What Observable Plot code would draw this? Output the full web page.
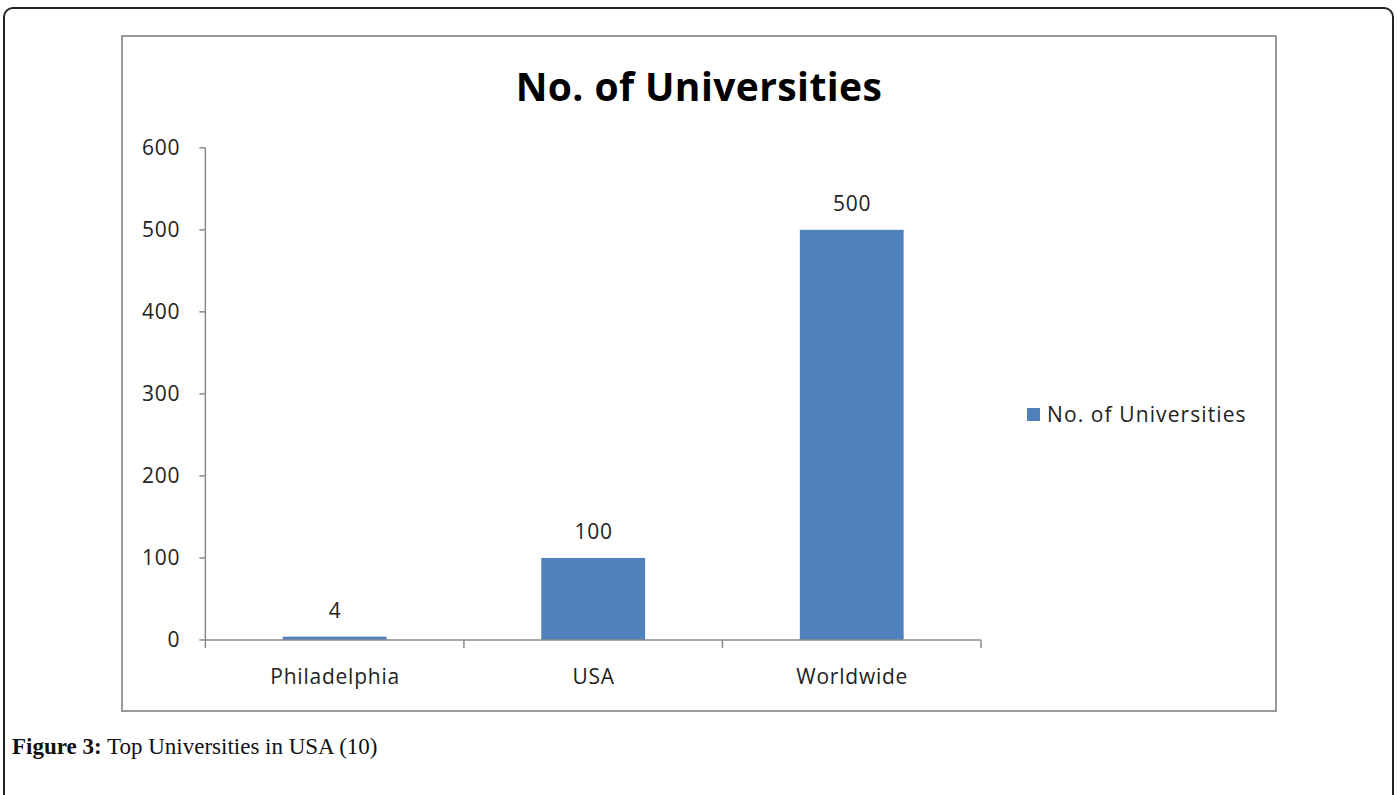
<!DOCTYPE html>
<html>
<head>
<meta charset="utf-8">
<script src="https://cdn.jsdelivr.net/npm/d3@7"></script>
<script src="https://cdn.jsdelivr.net/npm/@observablehq/plot@0.6"></script>
<style>
  html, body { margin: 0; padding: 0; background: #fff; width: 1397px; height: 795px; overflow: hidden; }
  #outer { position: absolute; left: 3px; top: 7px; width: 1387px; height: 820px; border: 2px solid #222; border-radius: 10px 10px 0 0; }
  #box { position: absolute; left: 121px; top: 35px; width: 1152px; height: 673px; border: 2px solid #999; }
  #title { position: absolute; left: 0; top: 23px; width: 1152px; text-align: center; font-family: "Open Sans", sans-serif; font-weight: 700; font-size: 39px; color: #000; line-height: 52px; letter-spacing: 0.4px; }
  #plot { position: absolute; left: -2px; top: -2px; }
  #legend { position: absolute; left: 904px; top: 363px; font-family: "Open Sans", sans-serif; font-size: 21px; letter-spacing: 1.1px; color: #222; display: flex; align-items: center; }
  #legend span.sw { display: inline-block; width: 13px; height: 13px; background: #4F81BD; margin-right: 7px; }
  #caption { position: absolute; left: 12px; top: 734px; font-family: "Liberation Serif", serif; font-size: 23px; color: #111; }
</style>
</head>
<body>
<div id="outer"></div>
<div id="box">
  <div id="title">No. of Universities</div>
  <div id="plot"></div>
  <div id="legend"><span class="sw"></span><span>No. of Universities</span></div>
</div>
<div id="caption"><b>Figure 3:</b> Top Universities in USA (10)</div>
<script>
const categories = ["Philadelphia", "USA", "Worldwide"];
const values = [4, 100, 500];
const yTicks = [0, 100, 200, 300, 400, 500, 600];
const seriesName = "No. of Universities";

const data = categories.map((c, i) => ({category: c, value: values[i]}));

function axisLines(index, scales, vals, dims) {
  const x = scales.x;
  const y = scales.y;
  const step = typeof x.step === "function" ? x.step() : x.bandwidth() / 0.4;
  const bw = x.bandwidth();
  const y0 = y(0);
  const yTop = y(d3.max(yTicks));
  const xs = categories.map(c => x(c) - (step - bw) / 2);
  xs.push(x(categories[categories.length - 1]) + bw + (step - bw) / 2);
  const g = d3.create("svg:g").attr("stroke", "#8a8a8a").attr("stroke-width", 1.5);
  g.append("line").attr("x1", xs[0]).attr("x2", xs[0]).attr("y1", yTop).attr("y2", y0);
  g.append("line").attr("x1", xs[0]).attr("x2", xs[xs.length - 1]).attr("y1", y0).attr("y2", y0);
  for (const xv of xs) {
    g.append("line").attr("x1", xv).attr("x2", xv).attr("y1", y0).attr("y2", y0 + 8);
  }
  for (const t of yTicks) {
    g.append("line").attr("x1", xs[0] - 6).attr("x2", xs[0]).attr("y1", y(t)).attr("y2", y(t));
  }
  return g.node();
}

const chart = Plot.plot({
  width: 1156,
  height: 677,
  marginLeft: 84,
  marginTop: 113,
  marginBottom: 71,
  marginRight: 295,
  style: { fontFamily: "Open Sans, sans-serif", fontSize: "21px", color: "#222", background: "transparent", letterSpacing: "0.8px" },
  x: { domain: categories, paddingInner: 0.6, paddingOuter: 0.3, label: null },
  y: { domain: [0, 600], label: null },
  marks: [
    Plot.barY(data, { x: "category", y: "value", fill: "#4F81BD" }),
    Plot.axisY({ ticks: yTicks, tickSize: 0, tickPadding: 25, label: null, fontSize: 21, fill: "#222" }),
    Plot.axisX({ tickSize: 0, tickPadding: 29, label: null, fontSize: 21, fill: "#222" }),
    Plot.text(data, { x: "category", y: "value", text: d => String(d.value), dy: -26, fontSize: 21, fill: "#222" }),
    axisLines
  ]
});
document.getElementById("plot").appendChild(chart);
</script>
</body>
</html>
